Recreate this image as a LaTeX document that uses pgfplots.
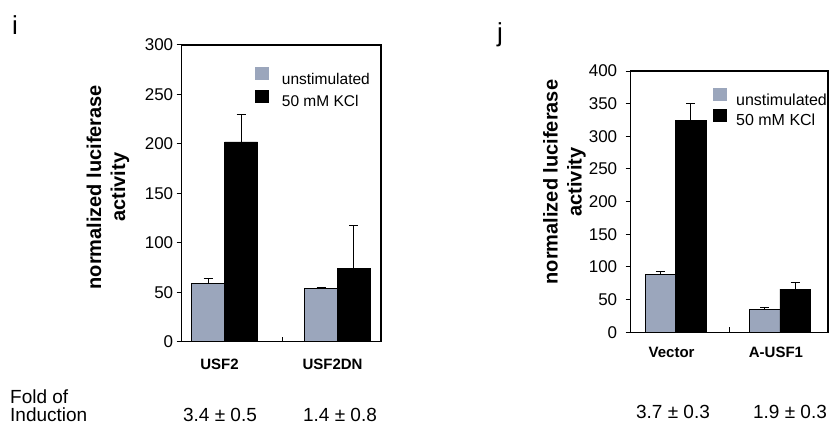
\documentclass[border=0pt]{standalone}
\usepackage{pgfplots}
\pgfplotsset{compat=1.18}
\usepackage{fontspec}
\setmainfont{Liberation Sans}
\definecolor{barg}{RGB}{155,166,188}
\pgfplotsset{
  myaxis/.style={
    scale only axis,
    axis line style={line width=1.2pt},
    ymin=0,
    tick align=outside, ytick pos=left, major tick length=5pt,
    xtick style={draw=none},
    ytick style={line width=1pt, black},
    /pgf/number format/assume math mode=true,
    yticklabel style={font=\fontsize{17}{18}\selectfont},
    xticklabel style={font=\bfseries\fontsize{15}{18}\selectfont},
    ylabel style={align=center, font=\bfseries\fontsize{20}{24}\selectfont, anchor=south},
    legend image code/.code={\fill[##1,draw=none] (0pt,-1pt) rectangle (14pt,12pt);},
    legend cell align=left,
    error bars/y dir=plus, error bars/y explicit,
    error bars/error bar style={line width=1pt, black},
    error bars/error mark options={rotate=90, mark size=4.5pt, line width=1pt, black},
  },
  graybar/.style={ybar, bar width=0.292, bar shift=0pt, fill=barg, draw=black, line width=0.8pt},
  blackbar/.style={ybar, bar width=0.292, bar shift=0pt, fill=black, draw=black, line width=0.8pt},
}
\begin{document}
\begin{tikzpicture}
\path[use as bounding box] (0pt,0pt) rectangle (829pt,426pt);
% panel i
\begin{axis}[myaxis,
  at={(181.7pt,84.3pt)}, anchor=south west,
  width=199.3pt, height=296.7pt,
  xmin=-0.379, xmax=1.385, ymax=300,
  ytick={0,50,100,150,200,250,300},
  xtick={0,1}, xticklabels={USF2,USF2DN},
  xticklabel style={xshift=-5pt, yshift=-9pt},
  ylabel={normalized luciferase\\activity},
  ylabel style={at={(rel axis cs:-0.245,0.521)}},
  legend style={at={(0.368,0.926)}, anchor=north west, draw=none, fill=none,
    inner sep=0pt, row sep=4pt, column sep=12.7pt,
    font=\fontsize{15.5}{18}\selectfont, nodes={inner sep=0pt}},
]
% unstimulated: USF2 at -0.146, USF2DN at 0.854
\addplot[graybar] coordinates {(-0.146,58.7) +- (0,5.3) (0.854,54) +- (0,1)};
% 50 mM KCl: USF2 at 0.146, USF2DN at 1.146
\addplot[blackbar] coordinates {(0.146,202) +- (0,28) (1.146,74.5) +- (0,42.5)};
\legend{unstimulated,50 mM KCl}
\draw[line width=1pt] (axis cs:0.515,0) -- ++(0pt,5pt);
\end{axis}
% panel j
\begin{axis}[myaxis,
  at={(630.7pt,93.7pt)}, anchor=south west,
  width=197.3pt, height=261.3pt,
  xmin=-0.431, xmax=1.461, ymax=400,
  ytick={0,50,100,150,200,250,300,350,400},
  yticklabel style={xshift=-5pt},
  xtick={0,1}, xticklabels={Vector,A-USF1},
  xticklabel style={xshift=-4pt, yshift=-6pt},
  ylabel={normalized luciferase\\activity},
  ylabel style={at={(rel axis cs:-0.21,0.575)}},
  legend style={at={(0.417,0.935)}, anchor=north west, draw=none, fill=none,
    inner sep=0pt, row sep=2pt, column sep=9pt,
    font=\fontsize{16}{18}\selectfont, nodes={inner sep=0pt}},
]
\addplot[graybar] coordinates {(-0.146,88) +- (0,5) (0.854,35) +- (0,3)};
\addplot[blackbar] coordinates {(0.146,324) +- (0,27) (1.146,66) +- (0,11)};
\legend{unstimulated,50 mM KCl}
\draw[line width=1pt] (axis cs:0.514,0) -- ++(0pt,5pt);
\end{axis}
% texts
\node[anchor=base, font=\fontsize{26}{28}\selectfont, inner sep=0pt] at (15pt,391pt) {i};
\node[anchor=base, font=\fontsize{26}{28}\selectfont, inner sep=0pt] at (500pt,384pt) {j};
\node[anchor=base west, font=\fontsize{19}{19}\selectfont, inner sep=0pt] at (10pt,22.7pt) {Fold of};
\node[anchor=base west, font=\fontsize{19}{19}\selectfont, inner sep=0pt] at (10pt,4.4pt) {Induction};
\node[anchor=base, font=\fontsize{19}{19}\selectfont, inner sep=0pt] at (220pt,5pt) {3.4 ± 0.5};
\node[anchor=base, font=\fontsize{19}{19}\selectfont, inner sep=0pt] at (340pt,5pt) {1.4 ± 0.8};
\node[anchor=base, font=\fontsize{19}{19}\selectfont, inner sep=0pt] at (673pt,7.7pt) {3.7 ± 0.3};
\node[anchor=base, font=\fontsize{19}{19}\selectfont, inner sep=0pt] at (790pt,7.7pt) {1.9 ± 0.3};
\end{tikzpicture}
\end{document}
